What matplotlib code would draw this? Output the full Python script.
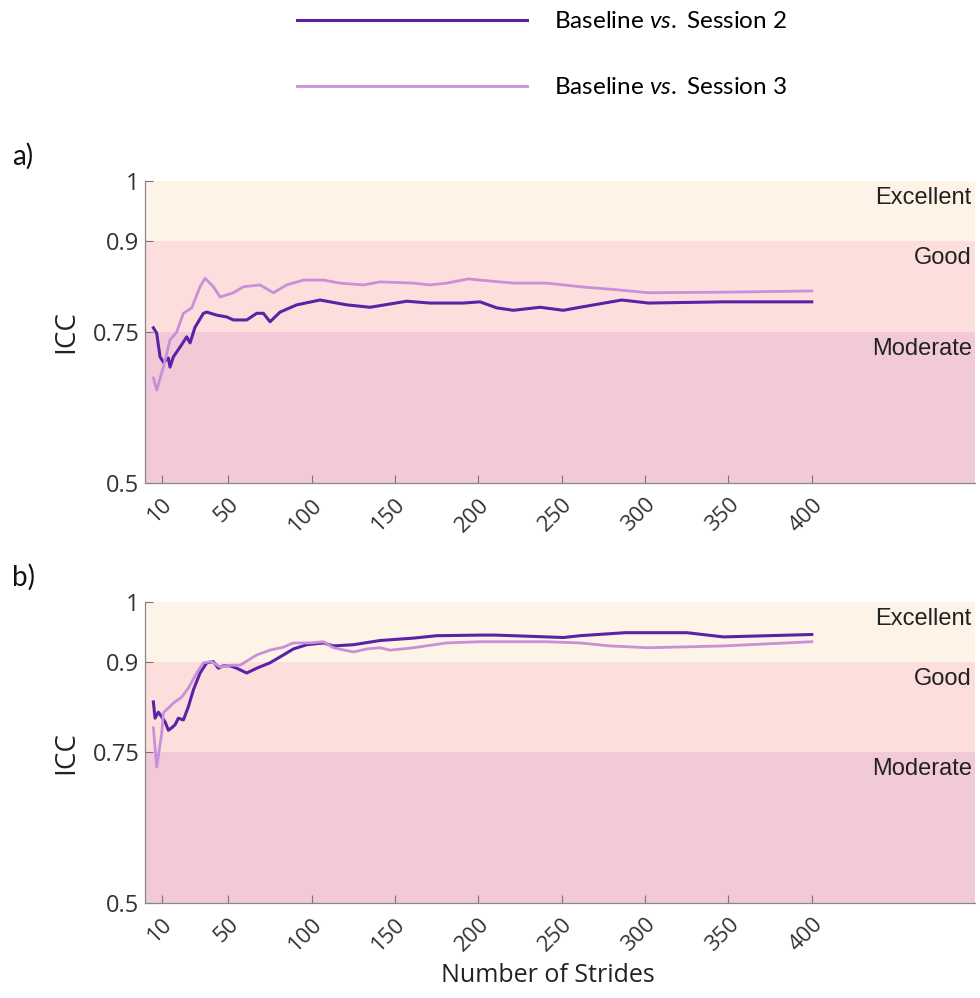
import numpy as np
import matplotlib
matplotlib.use('Agg')
import matplotlib.pyplot as plt

plt.rcParams['font.family'] = ['Lato', 'DejaVu Sans']
plt.rcParams['mathtext.fontset'] = 'custom'
plt.rcParams['mathtext.it'] = 'Lato:italic'
plt.rcParams['mathtext.rm'] = 'Lato'

# panel a) ICC vs number of strides
a_s2_x = [5, 7, 9, 11, 14, 15, 17, 21, 25, 27, 30, 35, 37, 43, 49, 53, 61, 67, 71, 75, 81, 91, 105,
          121, 135, 157, 171, 191, 201, 211, 221, 237, 251, 261, 286, 302, 347, 400]
a_s2_y = [0.757, 0.748, 0.709, 0.700, 0.707, 0.692, 0.709, 0.725, 0.742, 0.732, 0.758, 0.781, 0.783,
          0.778, 0.775, 0.770, 0.770, 0.781, 0.781, 0.767, 0.783, 0.795, 0.803, 0.795, 0.791, 0.801,
          0.798, 0.798, 0.800, 0.790, 0.786, 0.791, 0.786, 0.791, 0.803, 0.798, 0.800, 0.800]
a_s3_x = [5, 7, 11, 15, 19, 23, 28, 33, 36, 41, 45, 53, 59, 69, 77, 85, 95, 107, 117, 131, 141, 161,
          171, 181, 194, 201, 221, 241, 261, 283, 302, 347, 400]
a_s3_y = [0.674, 0.654, 0.692, 0.737, 0.750, 0.781, 0.790, 0.825, 0.839, 0.825, 0.808, 0.815, 0.825,
          0.828, 0.815, 0.828, 0.836, 0.836, 0.831, 0.828, 0.833, 0.831, 0.828, 0.831, 0.838, 0.836,
          0.831, 0.831, 0.825, 0.820, 0.815, 0.816, 0.818]

# panel b)
b_s2_x = [5, 6, 8, 10, 12, 14, 16, 18, 20, 23, 26, 29, 33, 37, 41, 44, 47, 51, 55, 61, 67, 75, 83,
          89, 97, 107, 113, 125, 141, 161, 175, 201, 210, 221, 251, 261, 288, 325, 347, 400]
b_s2_y = [0.834, 0.807, 0.817, 0.809, 0.801, 0.787, 0.791, 0.796, 0.807, 0.804, 0.826, 0.854, 0.882,
          0.899, 0.901, 0.890, 0.894, 0.894, 0.890, 0.882, 0.890, 0.899, 0.912, 0.922, 0.929, 0.932,
          0.927, 0.929, 0.936, 0.940, 0.944, 0.945, 0.945, 0.944, 0.941, 0.944, 0.949, 0.949, 0.942,
          0.946]
b_s3_x = [5, 7, 10, 11, 14, 17, 22, 26, 31, 35, 40, 45, 51, 57, 67, 75, 83, 89, 99, 107, 113, 125,
          133, 141, 147, 161, 181, 201, 221, 241, 261, 279, 302, 347, 400]
b_s3_y = [0.791, 0.726, 0.782, 0.816, 0.824, 0.832, 0.842, 0.857, 0.882, 0.899, 0.901, 0.892, 0.895,
          0.895, 0.912, 0.920, 0.925, 0.932, 0.932, 0.934, 0.924, 0.917, 0.922, 0.924, 0.920, 0.924,
          0.932, 0.934, 0.934, 0.934, 0.932, 0.927, 0.924, 0.927, 0.934]

bands = [(0.5, 0.75, 'Moderate', '#f1c9d7'), (0.75, 0.9, 'Good', '#fcdfdc'), (0.9, 1.0, 'Excellent', '#fdf3e7')]
xticks = [10, 50, 100, 150, 200, 250, 300, 350, 400]
yticks = [0.5, 0.75, 0.9, 1]
c_s2 = '#5a22a6'
c_s3 = '#c98fd9'

fig = plt.figure(figsize=(9.8, 9.98), dpi=100)
ax_a = fig.add_axes([0.148, 0.516, 0.847, 0.3026])
ax_b = fig.add_axes([0.148, 0.0952, 0.847, 0.3016])

panels = [(ax_a, a_s2_x, a_s2_y, a_s3_x, a_s3_y, 'a)'), (ax_b, b_s2_x, b_s2_y, b_s3_x, b_s3_y, 'b)')]
for axe, x2, y2, x3, y3, tag in panels:
	for lo, hi, name, col in bands:
		axe.axhspan(lo, hi, color=col, lw=0, zorder=0)
		axe.text(496, hi - 0.028, name, ha='right', va='center', fontsize=17,
		         family='Liberation Sans', color='#222222')
	l2, = axe.plot(x2, y2, color=c_s2, lw=2.2, label=r'Baseline $\it{vs.}$ Session 2')
	l3, = axe.plot(x3, y3, color=c_s3, lw=2.0, label=r'Baseline $\it{vs.}$ Session 3')
	axe.set_xlim(0, 498)
	axe.set_ylim(0.5, 1)
	axe.set_xticks(xticks)
	axe.set_xticklabels([str(t) for t in xticks], rotation=45, ha='right', rotation_mode='anchor',
	                    fontsize=16, family='Open Sans', color='#333333')
	axe.set_yticks(yticks)
	axe.set_yticklabels(['0.5', '0.75', '0.9', '1'], fontsize=17, family='Open Sans', color='#333333')
	axe.tick_params(direction='in', length=6, width=0.8, color='#777777', pad=8)
	axe.tick_params(axis='y', pad=4)
	for sp in ['top', 'right']:
		axe.spines[sp].set_visible(False)
	for sp in ['left', 'bottom']:
		axe.spines[sp].set_color('#888888')
		axe.spines[sp].set_linewidth(0.9)
	axe.set_ylabel('ICC', fontsize=20, family='Open Sans', color='#222222')
	axe.yaxis.set_label_coords(-0.078, 0.5)
	box = axe.get_position()
	fig.text(0.012, box.y1 + 0.025, tag, fontsize=20, color='#111111', va='center')

fig.text(0.559, 0.023, 'Number of Strides', fontsize=18, family='Open Sans', ha='center',
         va='center', color='#222222')

fig.legend(handles=[l2, l3], loc='center', bbox_to_anchor=(0.553, 0.945), frameon=False,
           fontsize=17.5, handlelength=9.5, handletextpad=1.1, labelspacing=1.85)

plt.savefig('out.png', dpi=100)
